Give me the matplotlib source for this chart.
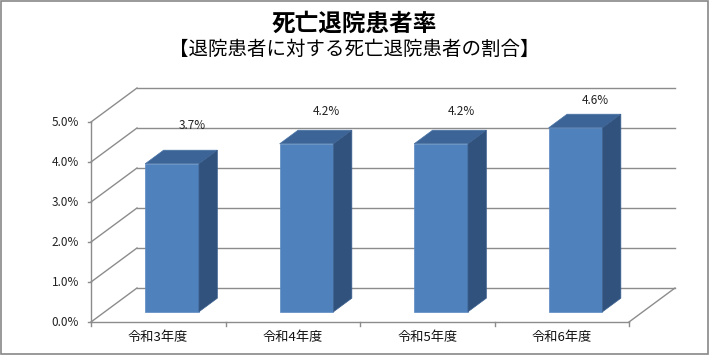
import numpy as np
import matplotlib.pyplot as plt
from matplotlib.patches import Polygon, Rectangle

plt.rcParams['font.family'] = ['Noto Sans CJK JP', 'DejaVu Sans']

categories = ['令和3年度', '令和4年度', '令和5年度', '令和6年度']
rates = [3.7, 4.2, 4.2, 4.6]          # 死亡退院患者率 (%)
yticks = [0, 1, 2, 3, 4, 5]

# 疑似3D用の奥行き (データ単位)
DX = 46 / 134.5
DY = 0.85
d0, dd = 0.3, 0.4     # 棒の手前位置と奥行き
bw = 0.4

fig = plt.figure(figsize=(7.09, 3.55), dpi=100)
ax = fig.add_axes([0, 0, 1, 1])
# 1カテゴリ=134.5px, 1%=40px となるように設定
ax.set_xlim(-91 / 134.5, (709 - 91) / 134.5)
ax.set_ylim((322 - 355) / 40, 322 / 40)
ax.axis('off')

grid_c = '#8c8c8c'
n = len(categories)

# 壁・床の線
for k in yticks:
    ax.plot([0, DX], [k, k + DY], color=grid_c, lw=1)
    ax.plot([DX, n + DX], [k + DY, k + DY], color=grid_c, lw=1)
    ax.plot([-0.025, 0], [k, k], color=grid_c, lw=1)
    ax.text(-0.09, k, f'{k:.1f}%', ha='right', va='center', fontsize=8.5, color='#222222')
ax.plot([0, 0], [0, 5], color=grid_c, lw=1)
ax.plot([0, n], [0, 0], color=grid_c, lw=1)
ax.plot([n, n + DX], [0, DY], color=grid_c, lw=1)
for i in range(n + 1):
    ax.plot([i, i], [0, -0.09], color=grid_c, lw=1)

# 棒
xs = np.arange(n) + 0.5 + d0 * DX
ax.bar(xs, rates, width=bw, bottom=d0 * DY, color='#4F81BD', edgecolor='#5b8bc4', lw=0.5, zorder=3)
for x, v in zip(xs, rates):
    xl, xr = x - bw / 2, x + bw / 2
    b, t = d0 * DY, d0 * DY + v
    ox, oy = dd * DX, dd * DY
    ax.add_patch(Polygon([(xl, t), (xr, t), (xr + ox, t + oy), (xl + ox, t + oy)],
                         closed=True, fc='#3C6496', ec='#4a74a8', lw=0.5, zorder=3))
    ax.add_patch(Polygon([(xr, b), (xr, t), (xr + ox, t + oy), (xr + ox, b + oy)],
                         closed=True, fc='#30527D', ec='#3d6190', lw=0.5, zorder=3))
    ax.text(x + 0.15, t + 0.8 - (v - 4.2) * 0.3, f'{v:.1f}%', ha='center', va='center',
            fontsize=8.5, color='#222222', zorder=4)

for i, c in enumerate(categories):
    ax.text(i + 0.5, -0.4, c, ha='center', va='center', fontsize=9.5, color='#111111')

fig.text(0.5, 1 - 24 / 355, '死亡退院患者率', ha='center', va='center', fontsize=17, fontweight='bold')
fig.text(0.5, 1 - 49 / 355, '【退院患者に対する死亡退院患者の割合】', ha='center', va='center', fontsize=14)

fig.patches.append(Rectangle((0.001, 0.002), 0.997, 0.995, transform=fig.transFigure,
                             fill=False, ec='#888888', lw=1.2))

fig.savefig('out.png', dpi=100)
